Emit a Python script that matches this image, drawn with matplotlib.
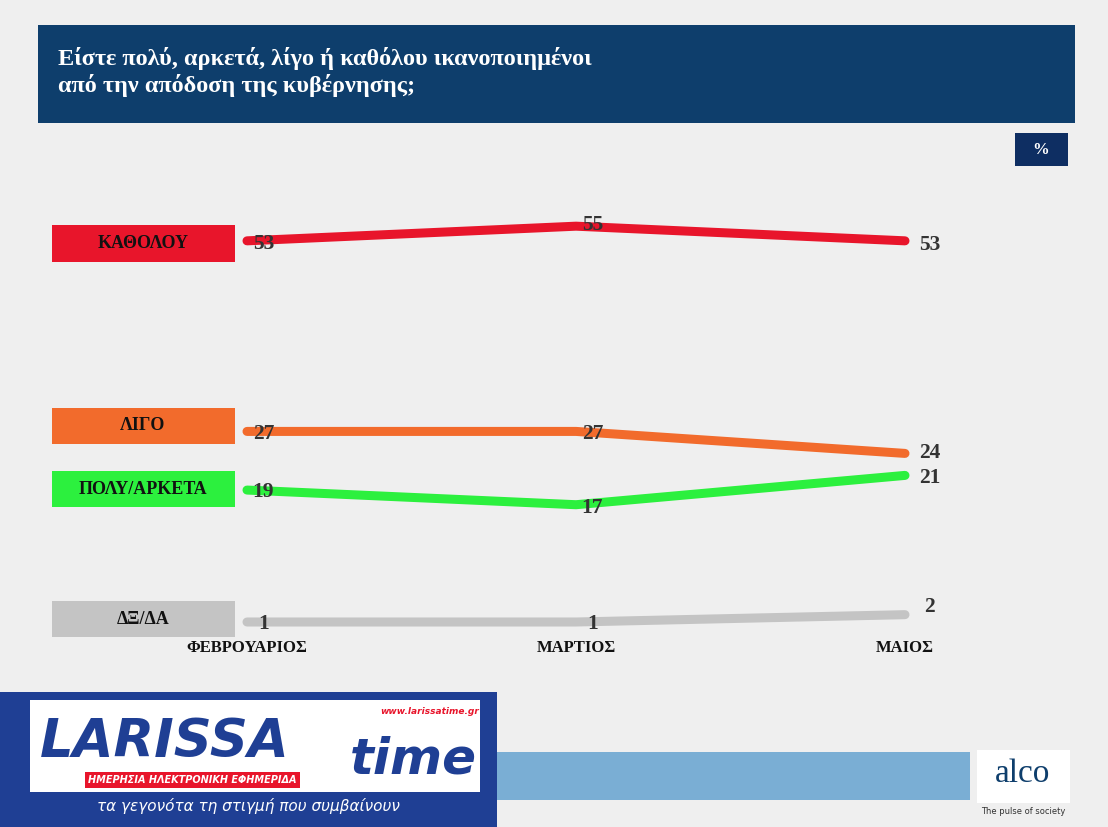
import matplotlib.pyplot as plt
from matplotlib.patches import Rectangle

months = ['ΦΕΒΡΟΥΑΡΙΟΣ', 'ΜΑΡΤΙΟΣ', 'ΜΑΙΟΣ']
series_names = ['ΚΑΘΟΛΟΥ', 'ΛΙΓΟ', 'ΠΟΛΥ/ΑΡΚΕΤΑ', 'ΔΞ/ΔΑ']
katholou = [53, 55, 53]
ligo = [27, 27, 24]
poly = [19, 17, 21]
dxda = [1, 1, 2]
colors = ['#e8152b', '#f26b2c', '#2cf03e', '#c4c4c4']

W, H = 1108, 827
fig = plt.figure(figsize=(W / 100, H / 100), dpi=100)
fig.patch.set_facecolor('#efefef')
serif = 'Liberation Serif'

def px(x0, y0, x1, y1):
    return (x0 / W, 1 - y1 / H, (x1 - x0) / W, (y1 - y0) / H)

def box(x0, y0, x1, y1, color, **kw):
    l, b, w, h = px(x0, y0, x1, y1)
    fig.patches.append(Rectangle((l, b), w, h, transform=fig.transFigure,
                                 facecolor=color, edgecolor='none', **kw))

# title bar
box(38, 25, 1075, 123, '#0e3e6c')
fig.text(58 / W, 1 - 72 / H, 'Είστε πολύ, αρκετά, λίγο ή καθόλου ικανοποιημένοι\nαπό την απόδοση της κυβέρνησης;',
         color='white', fontsize=17.5, fontfamily=serif, fontweight='bold', va='center', linespacing=1.2)
box(1015, 133, 1068, 166, '#0e2e62')
fig.text(1041 / W, 1 - 150 / H, '%', color='white', fontsize=12, fontfamily=serif,
         fontweight='bold', ha='center', va='center')

# main axes over whole figure, scaled so categories land on columns
ax = fig.add_axes([0, 0, 1, 1])
ax.set_facecolor('none')
x0, step = 247, 329
ax.set_xlim(-x0 / step, (W - x0) / step)
ppu = 7.33
ax.set_ylim(1 - (827 - 622) / ppu, 1 + 622 / ppu)
ax.axis('off')

xs = range(len(months))
all_series = [katholou, ligo, poly, dxda]
for vals, c in zip(all_series, colors):
    ax.plot(xs, vals, color=c, lw=6.5, solid_capstyle='round', zorder=2)

offsets = [
    [(0.05, -0.4), (0.05, 0.2), (0.075, -0.6)],
    [(0.05, -0.4), (0.05, -0.4), (0.075, 0.0)],
    [(0.05, -0.3), (0.05, -0.4), (0.075, -0.3)],
    [(0.05, -0.3), (0.05, -0.3), (0.075, 1.1)],
]
for vals, offs in zip(all_series, offsets):
    for i, v in enumerate(vals):
        dx, dy = offs[i]
        ax.text(i + dx, v + dy, str(v), fontsize=15.5, fontfamily=serif, fontweight='bold',
                color='#333333', ha='center', va='center', zorder=3)

for i, m in enumerate(months):
    ax.text(i, 1 - (648 - 622) / ppu, m, fontsize=12, fontfamily=serif, fontweight='bold',
            ha='center', va='center', color='#111111')

# series label boxes
label_y = [(225, 262), (408, 444), (471, 507), (601, 637)]
for name, c, (y0, y1) in zip(series_names, colors, label_y):
    box(52, y0, 235, y1, c)
    fig.text(143 / W, 1 - (y0 + y1) / 2 / H, name, fontsize=13, fontfamily=serif,
             fontweight='bold', ha='center', va='center', color='#111111')

# footer
box(497, 752, 970, 800, '#7aaed4')
box(977, 750, 1070, 803, 'white')
fig.text(1023 / W, 1 - 774 / H, 'alco', fontsize=24, fontfamily=serif, color='#0e3e6c',
         ha='center', va='center')
fig.text(1023 / W, 1 - 812 / H, 'The pulse of society', fontsize=6, color='#333333',
         ha='center', va='center')
box(0, 692, 497, 827, '#1f3f94')
box(30, 700, 480, 792, 'white')
fig.text(40 / W, 1 - 742 / H, 'LARISSA', fontsize=38, fontweight='bold', style='italic',
         color='#1f3f94', va='center')
fig.text(350 / W, 1 - 760 / H, 'time', fontsize=36, fontweight='bold', style='italic',
         color='#1f3f94', va='center')
box(85, 772, 300, 788, '#e8152b')
fig.text(192 / W, 1 - 780 / H, 'ΗΜΕΡΗΣΙΑ ΗΛΕΚΤΡΟΝΙΚΗ ΕΦΗΜΕΡΙΔΑ', fontsize=7,
         fontweight='bold', style='italic', color='white', ha='center', va='center')
fig.text(430 / W, 1 - 712 / H, 'www.larissatime.gr', fontsize=6.5, fontweight='bold',
         style='italic', color='#e8152b', ha='center', va='center')
fig.text(248 / W, 1 - 806 / H, 'τα γεγονότα τη στιγμή που συμβαίνουν', fontsize=11,
         style='italic', color='white', ha='center', va='center')

fig.savefig('out.png', dpi=100, facecolor=fig.get_facecolor())
